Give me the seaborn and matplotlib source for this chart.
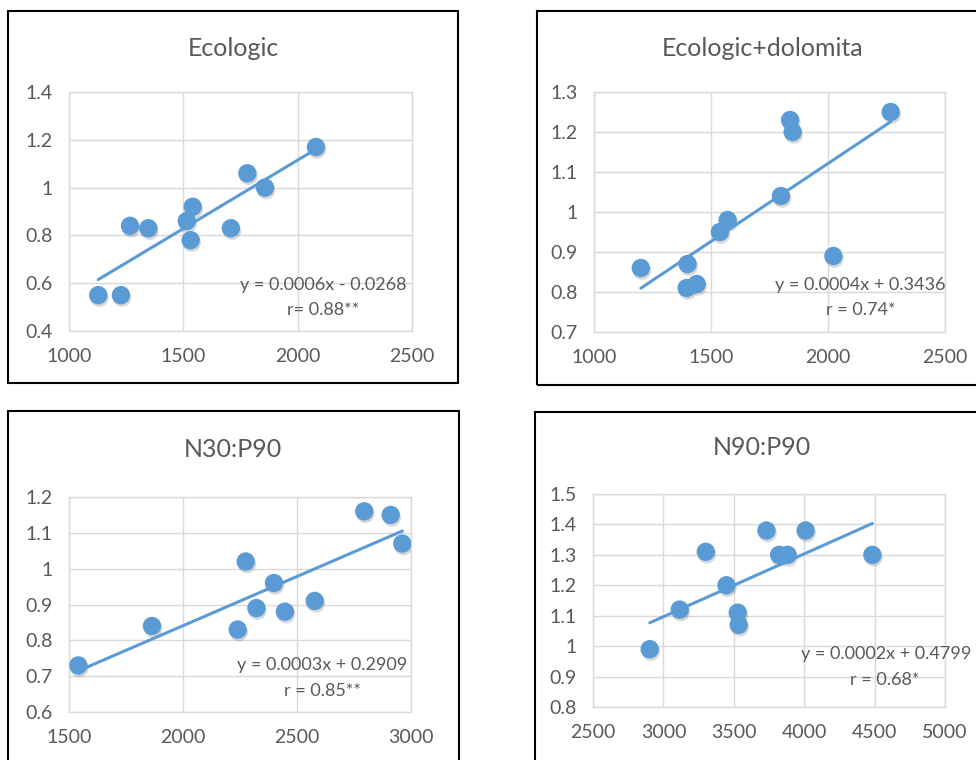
import numpy as np
import pandas as pd
import seaborn as sns
import matplotlib
matplotlib.use("Agg")
import matplotlib.pyplot as plt
from matplotlib.patches import Rectangle
from matplotlib.ticker import FuncFormatter
import matplotlib.patheffects as pe

# ---------------- data ----------------
eco_x = [1128, 1227, 1267, 1347, 1515, 1541, 1532, 1708, 1780, 1857, 2080]
eco_y = [0.55, 0.55, 0.84, 0.83, 0.86, 0.92, 0.78, 0.83, 1.06, 1.00, 1.17]

dol_x = [1200, 1400, 1396, 1439, 1538, 1571, 1799, 1838, 1849, 2023, 2268]
dol_y = [0.86, 0.87, 0.81, 0.82, 0.95, 0.98, 1.04, 1.23, 1.20, 0.89, 1.25]

n30_x = [1541, 1864, 2240, 2275, 2322, 2399, 2447, 2578, 2795, 2911, 2962]
n30_y = [0.73, 0.84, 0.83, 1.02, 0.89, 0.96, 0.88, 0.91, 1.16, 1.15, 1.07]

n90_x = [2903, 3116, 3301, 3448, 3528, 3535, 3732, 3822, 3882, 4010, 4484]
n90_y = [0.99, 1.12, 1.31, 1.20, 1.11, 1.07, 1.38, 1.30, 1.30, 1.38, 1.30]

titles = ["Ecologic", "Ecologic+dolomita", "N30:P90", "N90:P90"]
equations = ["y = 0.0006x - 0.0268", "y = 0.0004x + 0.3436",
             "y = 0.0003x + 0.2909", "y = 0.0002x + 0.4799"]
r_labels = ["r= 0.88**", "r = 0.74*", "r = 0.85**", "r = 0.68*"]

x_ticks = [[1000, 1500, 2000, 2500], [1000, 1500, 2000, 2500],
           [1500, 2000, 2500, 3000], [2500, 3000, 3500, 4000, 4500, 5000]]
y_ticks = [[0.4, 0.6, 0.8, 1.0, 1.2, 1.4],
           [0.7, 0.8, 0.9, 1.0, 1.1, 1.2, 1.3],
           [0.6, 0.7, 0.8, 0.9, 1.0, 1.1, 1.2],
           [0.8, 0.9, 1.0, 1.1, 1.2, 1.3, 1.4, 1.5]]

series = [(eco_x, eco_y), (dol_x, dol_y), (n30_x, n30_y), (n90_x, n90_y)]

# ---------------- layout (pixels) ----------------
W, H = 976, 760
sns.set_style("white")
plt.rcParams['font.family'] = ['Lato', 'DejaVu Sans']
GRAY = "#595959"
BLUE = "#5B9BD5"
GRID = "#D9D9D9"

fig = plt.figure(figsize=(W / 100, H / 100), dpi=100)
fig.patch.set_facecolor("white")

def fx(x):
    return x / W

def fy(y):
    return 1 - y / H

# panel boxes: (x0, y0, x1, y1)
boxes = [(8, 11, 458, 383), (537, 11, 985, 385), (8, 411, 459, 775), (535, 412, 985, 775)]
# plot areas
areas = [(69, 92, 412, 331), (594, 92, 945, 332), (69, 497, 411, 712), (593, 494, 945, 707)]
title_pos = [(233, 48), (763, 48), (233, 450), (762, 448)]
eq_pos = [((0.742, 0.192), (0.741, 0.088)), ((0.759, 0.196), (0.759, 0.092)),
          ((0.740, 0.219), (0.740, 0.098)), ((0.832, 0.249), (0.830, 0.127))]

for (x0, y0, x1, y1) in boxes:
    fig.add_artist(Rectangle((fx(x0), fy(y1)), fx(x1 - x0), (y1 - y0) / H,
                             transform=fig.transFigure, fill=False,
                             edgecolor="black", linewidth=1.5, clip_on=False))

fmt = FuncFormatter(lambda v, p: f"{v:g}")

for i in range(4):
    x0, y0, x1, y1 = areas[i]
    ax = fig.add_axes([fx(x0), fy(y1), fx(x1 - x0), (y1 - y0) / H])
    xs, ys = series[i]
    df = pd.DataFrame({"x": xs, "y": ys})
    sns.regplot(data=df, x="x", y="y", ax=ax, ci=None, truncate=True,
                scatter_kws=dict(s=175, color=BLUE, edgecolor="none", alpha=1, zorder=3,
                                 path_effects=[pe.SimplePatchShadow(offset=(0.8, -1.8),
                                                                    shadow_rgbFace="#606060",
                                                                    alpha=0.25),
                                               pe.Normal()]),
                line_kws=dict(color=BLUE, linewidth=2.2, zorder=4))
    ax.set_xlim(x_ticks[i][0], x_ticks[i][-1])
    ax.set_ylim(y_ticks[i][0], y_ticks[i][-1])
    ax.set_xticks(x_ticks[i])
    ax.set_yticks(y_ticks[i])
    ax.xaxis.set_major_formatter(fmt)
    ax.yaxis.set_major_formatter(fmt)
    ax.grid(True, color=GRID, linewidth=1)
    ax.set_axisbelow(True)
    for s in ax.spines.values():
        s.set_color(GRID)
        s.set_linewidth(1)
    ax.tick_params(length=0, labelsize=14, colors=GRAY)
    ax.tick_params(axis="y", pad=12)
    ax.tick_params(axis="x", pad=12)
    ax.set_xlabel("")
    ax.set_ylabel("")
    (ex, ey), (rx, ry) = eq_pos[i]
    ax.text(ex, ey, equations[i], transform=ax.transAxes, ha="center", va="center",
            fontsize=13, color=GRAY, zorder=5)
    ax.text(rx, ry, r_labels[i], transform=ax.transAxes, ha="center", va="center",
            fontsize=13, color=GRAY, zorder=5)
    tx, ty = title_pos[i]
    fig.text(fx(tx), fy(ty), titles[i], ha="center", va="center", fontsize=18, color=GRAY)

fig.savefig("out.png", dpi=100)
